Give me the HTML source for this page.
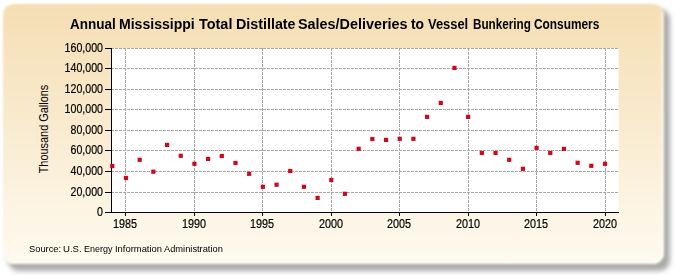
<!DOCTYPE html>
<html><head><meta charset="utf-8"><style>
html,body{margin:0;padding:0;width:675px;height:275px;overflow:hidden;background:#fff;}
body{position:relative;font-family:"Liberation Sans",sans-serif;}
.box{position:absolute;left:3px;top:4px;width:661px;height:259.5px;border-radius:11px;
background:linear-gradient(to bottom,#f5deb3 0%,#fffaf0 100%);filter:blur(1.1px);box-shadow:inset -3px -3px 3px -1px rgba(255,255,255,0.7);}
.shadow{position:absolute;left:8px;top:9px;width:662px;height:261.5px;border-radius:11px;background:rgba(0,0,0,0.33);filter:blur(2.4px);}
.tw{position:absolute;top:16.1px;font-weight:bold;font-size:14px;line-height:16px;color:#000;white-space:nowrap;transform-origin:0 0;}
.sw{position:absolute;top:243.4px;font-size:9.8px;line-height:12px;color:#000;white-space:nowrap;transform-origin:0 0;}
.yl{position:absolute;left:40px;width:63px;text-align:right;font-size:12px;line-height:14px;color:#000;-webkit-text-stroke:0.2px #000;transform:scaleX(0.885);transform-origin:100% 50%;}
.xl{position:absolute;top:216.5px;width:40px;text-align:center;font-size:12px;line-height:14px;color:#000;-webkit-text-stroke:0.2px #000;transform:scaleX(0.9);}
.ytitle{position:absolute;left:43.5px;top:129.2px;width:0;height:0;}
.ytitle span{position:absolute;left:0;top:0;transform:translate(-50%,-50%) rotate(-90deg) scaleX(0.91);white-space:nowrap;font-size:12px;line-height:14px;color:#000;}
svg{position:absolute;left:0;top:0;}
</style></head><body>
<div class="shadow"></div>
<div class="box"></div>
<svg width="675" height="275" viewBox="0 0 675 275">
<rect x="111" y="48" width="507.6" height="164" fill="#fff"/>
<line x1="111" x2="618.6" y1="192.5" y2="192.5" stroke="#a8a8a8" stroke-width="1" stroke-dasharray="3,1"/>
<line x1="111" x2="618.6" y1="171.5" y2="171.5" stroke="#a8a8a8" stroke-width="1" stroke-dasharray="3,1"/>
<line x1="111" x2="618.6" y1="150.5" y2="150.5" stroke="#a8a8a8" stroke-width="1" stroke-dasharray="3,1"/>
<line x1="111" x2="618.6" y1="130.5" y2="130.5" stroke="#a8a8a8" stroke-width="1" stroke-dasharray="3,1"/>
<line x1="111" x2="618.6" y1="109.5" y2="109.5" stroke="#a8a8a8" stroke-width="1" stroke-dasharray="3,1"/>
<line x1="111" x2="618.6" y1="89.5" y2="89.5" stroke="#a8a8a8" stroke-width="1" stroke-dasharray="3,1"/>
<line x1="111" x2="618.6" y1="68.5" y2="68.5" stroke="#a8a8a8" stroke-width="1" stroke-dasharray="3,1"/>
<line x1="111" x2="618.6" y1="48.5" y2="48.5" stroke="#a8a8a8" stroke-width="1" stroke-dasharray="3,1"/>
<line x1="125.5" x2="125.5" y1="48" y2="212" stroke="#a8a8a8" stroke-width="1" stroke-dasharray="3,1"/>
<line x1="194.5" x2="194.5" y1="48" y2="212" stroke="#a8a8a8" stroke-width="1" stroke-dasharray="3,1"/>
<line x1="262.5" x2="262.5" y1="48" y2="212" stroke="#a8a8a8" stroke-width="1" stroke-dasharray="3,1"/>
<line x1="331.5" x2="331.5" y1="48" y2="212" stroke="#a8a8a8" stroke-width="1" stroke-dasharray="3,1"/>
<line x1="399.5" x2="399.5" y1="48" y2="212" stroke="#a8a8a8" stroke-width="1" stroke-dasharray="3,1"/>
<line x1="468.5" x2="468.5" y1="48" y2="212" stroke="#a8a8a8" stroke-width="1" stroke-dasharray="3,1"/>
<line x1="536.5" x2="536.5" y1="48" y2="212" stroke="#a8a8a8" stroke-width="1" stroke-dasharray="3,1"/>
<line x1="605.5" x2="605.5" y1="48" y2="212" stroke="#a8a8a8" stroke-width="1" stroke-dasharray="3,1"/>
<line x1="111.5" x2="111.5" y1="48" y2="213" stroke="#000" stroke-width="1"/>
<line x1="111" x2="619" y1="212.5" y2="212.5" stroke="#000" stroke-width="1"/>
<line x1="105" x2="111" y1="212.5" y2="212.5" stroke="#000" stroke-width="1"/>
<line x1="105" x2="111" y1="192.5" y2="192.5" stroke="#000" stroke-width="1"/>
<line x1="105" x2="111" y1="171.5" y2="171.5" stroke="#000" stroke-width="1"/>
<line x1="105" x2="111" y1="150.5" y2="150.5" stroke="#000" stroke-width="1"/>
<line x1="105" x2="111" y1="130.5" y2="130.5" stroke="#000" stroke-width="1"/>
<line x1="105" x2="111" y1="109.5" y2="109.5" stroke="#000" stroke-width="1"/>
<line x1="105" x2="111" y1="89.5" y2="89.5" stroke="#000" stroke-width="1"/>
<line x1="105" x2="111" y1="68.5" y2="68.5" stroke="#000" stroke-width="1"/>
<line x1="105" x2="111" y1="48.5" y2="48.5" stroke="#000" stroke-width="1"/>
<line x1="125.5" x2="125.5" y1="212" y2="216" stroke="#000" stroke-width="1"/>
<line x1="194.5" x2="194.5" y1="212" y2="216" stroke="#000" stroke-width="1"/>
<line x1="262.5" x2="262.5" y1="212" y2="216" stroke="#000" stroke-width="1"/>
<line x1="331.5" x2="331.5" y1="212" y2="216" stroke="#000" stroke-width="1"/>
<line x1="399.5" x2="399.5" y1="212" y2="216" stroke="#000" stroke-width="1"/>
<line x1="468.5" x2="468.5" y1="212" y2="216" stroke="#000" stroke-width="1"/>
<line x1="536.5" x2="536.5" y1="212" y2="216" stroke="#000" stroke-width="1"/>
<line x1="605.5" x2="605.5" y1="212" y2="216" stroke="#000" stroke-width="1"/>
<rect x="110.21" y="164.00" width="4.2" height="4.2" fill="#cc0a1e"/>
<rect x="123.90" y="175.90" width="4.2" height="4.2" fill="#cc0a1e"/>
<rect x="137.59" y="157.70" width="4.2" height="4.2" fill="#cc0a1e"/>
<rect x="151.27" y="169.60" width="4.2" height="4.2" fill="#cc0a1e"/>
<rect x="164.96" y="142.80" width="4.2" height="4.2" fill="#cc0a1e"/>
<rect x="178.64" y="153.70" width="4.2" height="4.2" fill="#cc0a1e"/>
<rect x="192.33" y="161.70" width="4.2" height="4.2" fill="#cc0a1e"/>
<rect x="206.02" y="156.80" width="4.2" height="4.2" fill="#cc0a1e"/>
<rect x="219.70" y="153.90" width="4.2" height="4.2" fill="#cc0a1e"/>
<rect x="233.39" y="160.90" width="4.2" height="4.2" fill="#cc0a1e"/>
<rect x="247.07" y="171.70" width="4.2" height="4.2" fill="#cc0a1e"/>
<rect x="260.76" y="184.70" width="4.2" height="4.2" fill="#cc0a1e"/>
<rect x="274.45" y="182.60" width="4.2" height="4.2" fill="#cc0a1e"/>
<rect x="288.13" y="168.90" width="4.2" height="4.2" fill="#cc0a1e"/>
<rect x="301.82" y="184.70" width="4.2" height="4.2" fill="#cc0a1e"/>
<rect x="315.50" y="195.80" width="4.2" height="4.2" fill="#cc0a1e"/>
<rect x="329.19" y="177.90" width="4.2" height="4.2" fill="#cc0a1e"/>
<rect x="342.88" y="191.70" width="4.2" height="4.2" fill="#cc0a1e"/>
<rect x="356.56" y="146.70" width="4.2" height="4.2" fill="#cc0a1e"/>
<rect x="370.25" y="136.90" width="4.2" height="4.2" fill="#cc0a1e"/>
<rect x="383.93" y="137.80" width="4.2" height="4.2" fill="#cc0a1e"/>
<rect x="397.62" y="136.70" width="4.2" height="4.2" fill="#cc0a1e"/>
<rect x="411.31" y="136.70" width="4.2" height="4.2" fill="#cc0a1e"/>
<rect x="424.99" y="114.80" width="4.2" height="4.2" fill="#cc0a1e"/>
<rect x="438.68" y="100.80" width="4.2" height="4.2" fill="#cc0a1e"/>
<rect x="452.36" y="65.80" width="4.2" height="4.2" fill="#cc0a1e"/>
<rect x="466.05" y="114.80" width="4.2" height="4.2" fill="#cc0a1e"/>
<rect x="479.74" y="150.90" width="4.2" height="4.2" fill="#cc0a1e"/>
<rect x="493.42" y="150.90" width="4.2" height="4.2" fill="#cc0a1e"/>
<rect x="507.11" y="157.70" width="4.2" height="4.2" fill="#cc0a1e"/>
<rect x="520.79" y="166.70" width="4.2" height="4.2" fill="#cc0a1e"/>
<rect x="534.48" y="145.80" width="4.2" height="4.2" fill="#cc0a1e"/>
<rect x="548.17" y="150.90" width="4.2" height="4.2" fill="#cc0a1e"/>
<rect x="561.85" y="146.80" width="4.2" height="4.2" fill="#cc0a1e"/>
<rect x="575.54" y="160.70" width="4.2" height="4.2" fill="#cc0a1e"/>
<rect x="589.22" y="163.70" width="4.2" height="4.2" fill="#cc0a1e"/>
<rect x="602.91" y="161.70" width="4.2" height="4.2" fill="#cc0a1e"/>
</svg>
<span class="tw" style="left:70.05px;transform:scaleX(0.9649)">Annual</span>
<span class="tw" style="left:119.35px;transform:scaleX(1.0037)">Mississippi</span>
<span class="tw" style="left:198.86px;transform:scaleX(1.0304)">Total</span>
<span class="tw" style="left:235.53px;transform:scaleX(1.0206)">Distillate</span>
<span class="tw" style="left:297.92px;transform:scaleX(1.0277)">Sales/Deliveries</span>
<span class="tw" style="left:411.26px;transform:scaleX(0.9916)">to</span>
<span class="tw" style="left:428.44px;transform:scaleX(0.9218)">Vessel</span>
<span class="tw" style="left:472.79px;transform:scaleX(0.8359)">Bunkering</span>
<span class="tw" style="left:534.37px;transform:scaleX(0.8484)">Consumers</span>
<span class="sw" style="left:28.59px;transform:scaleX(0.9521)">Source:</span>
<span class="sw" style="left:63.17px;transform:scaleX(0.9788)">U.S.</span>
<span class="sw" style="left:83.90px;transform:scaleX(0.9154)">Energy</span>
<span class="sw" style="left:114.88px;transform:scaleX(0.9594)">Information</span>
<span class="sw" style="left:164.04px;transform:scaleX(0.9476)">Administration</span>
<div class="yl" style="top:205.1px">0</div>
<div class="yl" style="top:185.1px">20,000</div>
<div class="yl" style="top:164.1px">40,000</div>
<div class="yl" style="top:143.1px">60,000</div>
<div class="yl" style="top:123.1px">80,000</div>
<div class="yl" style="top:102.1px">100,000</div>
<div class="yl" style="top:82.1px">120,000</div>
<div class="yl" style="top:61.1px">140,000</div>
<div class="yl" style="top:41.1px">160,000</div>
<div class="xl" style="left:105.0px">1985</div>
<div class="xl" style="left:174.0px">1990</div>
<div class="xl" style="left:242.0px">1995</div>
<div class="xl" style="left:311.0px">2000</div>
<div class="xl" style="left:379.0px">2005</div>
<div class="xl" style="left:448.0px">2010</div>
<div class="xl" style="left:516.0px">2015</div>
<div class="xl" style="left:585.0px">2020</div>
<div class="ytitle"><span>Thousand Gallons</span></div>
</body></html>
